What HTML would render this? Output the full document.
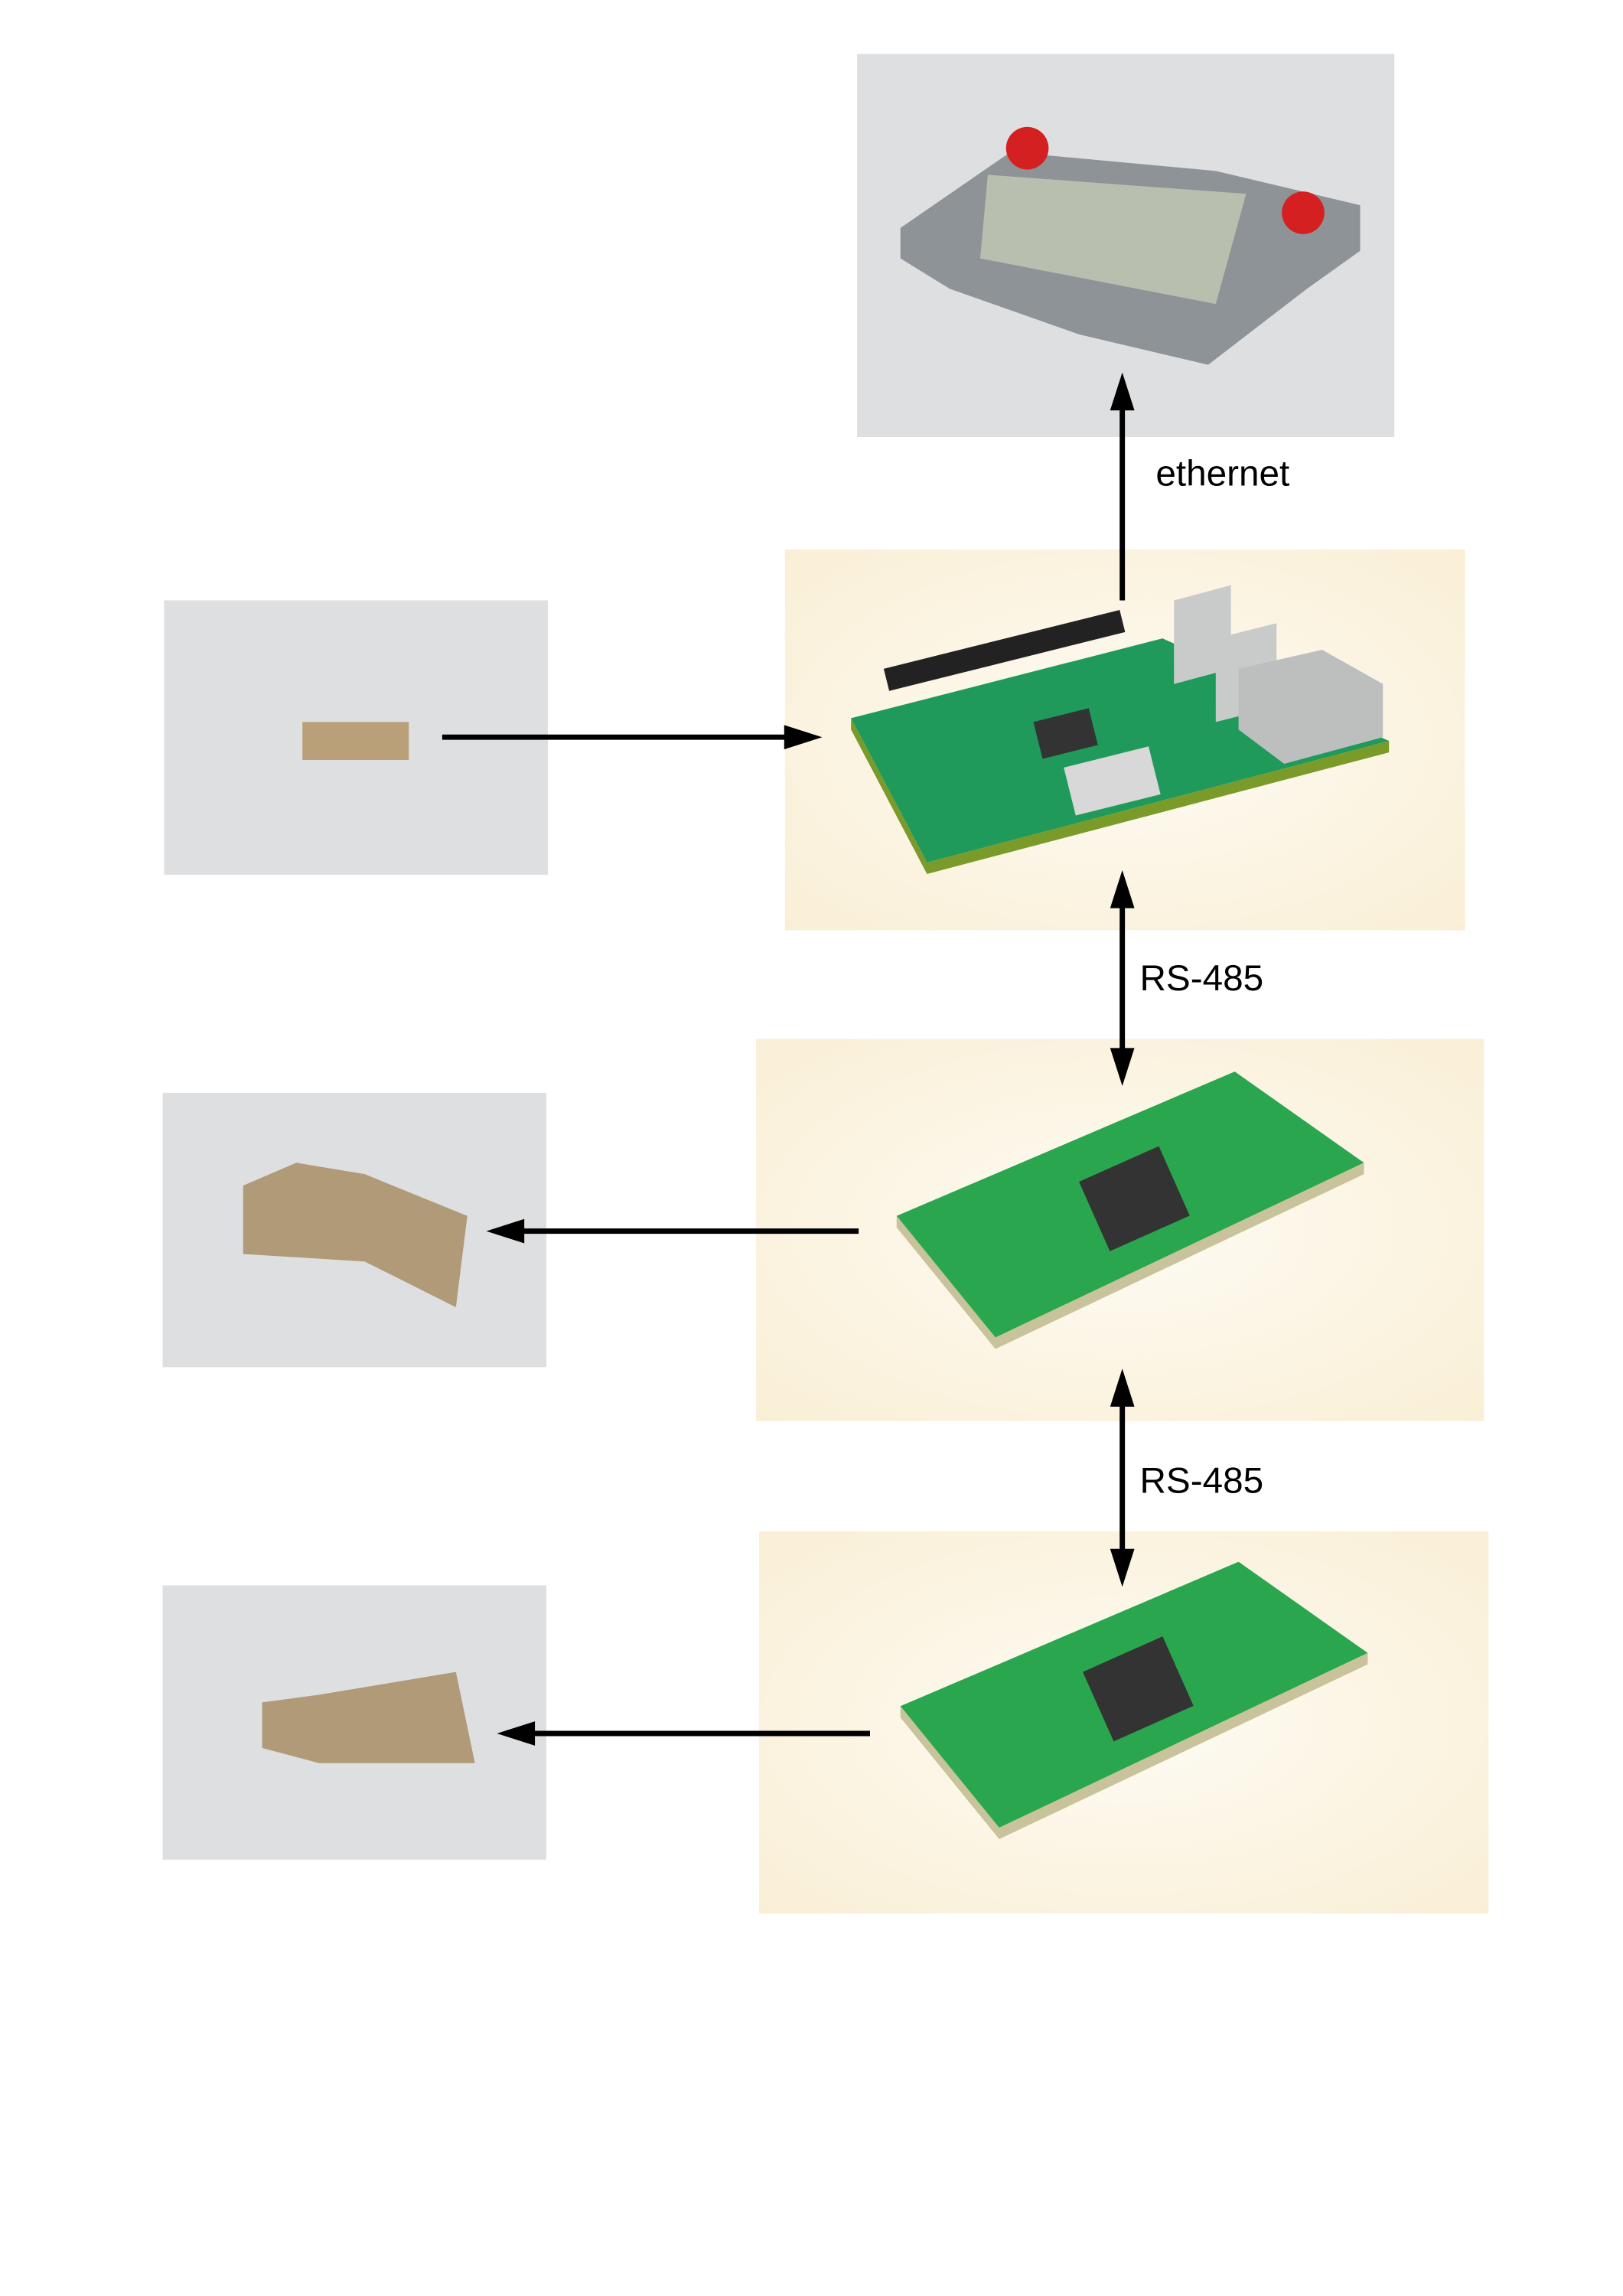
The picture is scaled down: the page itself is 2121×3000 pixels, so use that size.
<!DOCTYPE html>
<html><head><style>
body{margin:0;width:2121px;height:3000px;background:#fff;position:relative;overflow:hidden;font-family:"Liberation Sans",sans-serif}
#w{position:absolute;left:0;top:0;width:2121px;height:3000px;transform:scale(0.993);transform-origin:0 0}
.b{position:absolute}
.g{background:#dedfe0}
.y{background:radial-gradient(ellipse at center,#fdfbf3 0%,#faefd6 100%)}
.lbl{position:absolute;font-size:48px;color:#000}
</style></head><body><div id="w">
<div class="b g" style="left:1128px;top:71px;width:707px;height:504px"></div>
<div class="b y" style="left:1033px;top:723px;width:895px;height:501px"></div>
<div class="b g" style="left:216px;top:790px;width:505px;height:361px"></div>
<div class="b y" style="left:995px;top:1367px;width:958px;height:503px"></div>
<div class="b g" style="left:214px;top:1438px;width:505px;height:361px"></div>
<div class="b y" style="left:999px;top:2015px;width:960px;height:503px"></div>
<div class="b g" style="left:214px;top:2086px;width:505px;height:361px"></div>
<svg class="b" style="left:0;top:0" width="2121" height="3000">
<polygon points="1185,300 1330,200 1600,225 1790,270 1790,330 1720,380 1590,480 1420,440 1250,380 1185,340" fill="#8d9397"/>
<polygon points="1300,230 1640,255 1600,400 1290,340" fill="#b9bfae"/>
<circle cx="1352" cy="195" r="28" fill="#d42020"/><circle cx="1715" cy="280" r="28" fill="#d42020"/>
<polygon points="1120,945 1530,840 1828,975 1220,1135" fill="#1f9a5a"/>
<polygon points="1120,945 1220,1135 1828,975 1828,990 1220,1150 1120,960" fill="#7a9a2a"/>
<rect x="1163" y="880" width="320" height="30" fill="#222" transform="rotate(-14 1163 880)"/>
<polygon points="1545,790 1620,770 1620,880 1545,900" fill="#c9cbcb"/>
<polygon points="1600,840 1680,820 1680,930 1600,950" fill="#c9cbcb"/>
<polygon points="1630,880 1740,855 1820,900 1820,970 1690,1005 1630,960" fill="#bdbfbf"/>
<rect x="1360" y="950" width="75" height="50" fill="#333" transform="rotate(-14 1360 950)"/>
<rect x="1400" y="1010" width="115" height="65" fill="#d8d8d8" transform="rotate(-14 1400 1010)"/>
<rect x="398" y="950" width="140" height="50" fill="#b9a079"/>
<polygon points="1180,1600 1625,1410 1795,1530 1310,1760" fill="#2aa64f"/>
<polygon points="1180,1600 1310,1760 1795,1530 1795,1545 1310,1775 1180,1615" fill="#c8c39a"/>
<rect x="1420" y="1555" width="115" height="100" fill="#333" transform="rotate(-24 1420 1555)"/>
<polygon points="1185,2245 1630,2055 1800,2175 1315,2405" fill="#2aa64f"/>
<polygon points="1185,2245 1315,2405 1800,2175 1800,2190 1315,2420 1185,2260" fill="#c8c39a"/>
<rect x="1425" y="2200" width="115" height="100" fill="#333" transform="rotate(-24 1425 2200)"/>
<polygon points="320,1560 390,1530 480,1545 615,1600 600,1720 480,1660 320,1650" fill="#b09a78"/>
<polygon points="345,2240 420,2230 600,2200 625,2320 420,2320 345,2300" fill="#b09a78"/>
<g stroke="#000" stroke-width="7" fill="#000">
<line x1="1477" y1="790" x2="1477" y2="530"/>
<polygon points="1477,490 1461,540 1493,540" stroke="none"/>
<line x1="582" y1="970" x2="1040" y2="970"/>
<polygon points="1082,970 1032,954 1032,986" stroke="none"/>
<line x1="1477" y1="1180" x2="1477" y2="1395"/>
<polygon points="1477,1145 1461,1195 1493,1195" stroke="none"/>
<polygon points="1477,1429 1461,1379 1493,1379" stroke="none"/>
<line x1="1130" y1="1620" x2="680" y2="1620"/>
<polygon points="640,1620 690,1604 690,1636" stroke="none"/>
<line x1="1477" y1="1836" x2="1477" y2="2053"/>
<polygon points="1477,1801 1461,1851 1493,1851" stroke="none"/>
<polygon points="1477,2088 1461,2038 1493,2038" stroke="none"/>
<line x1="1145" y1="2281" x2="694" y2="2281"/>
<polygon points="654,2281 704,2265 704,2297" stroke="none"/>
</g>
</svg>
<div class="lbl" style="left:1521px;top:596px">ethernet</div>
<div class="lbl" style="left:1500px;top:1260px">RS-485</div>
<div class="lbl" style="left:1500px;top:1921px">RS-485</div>
</div></body></html>
